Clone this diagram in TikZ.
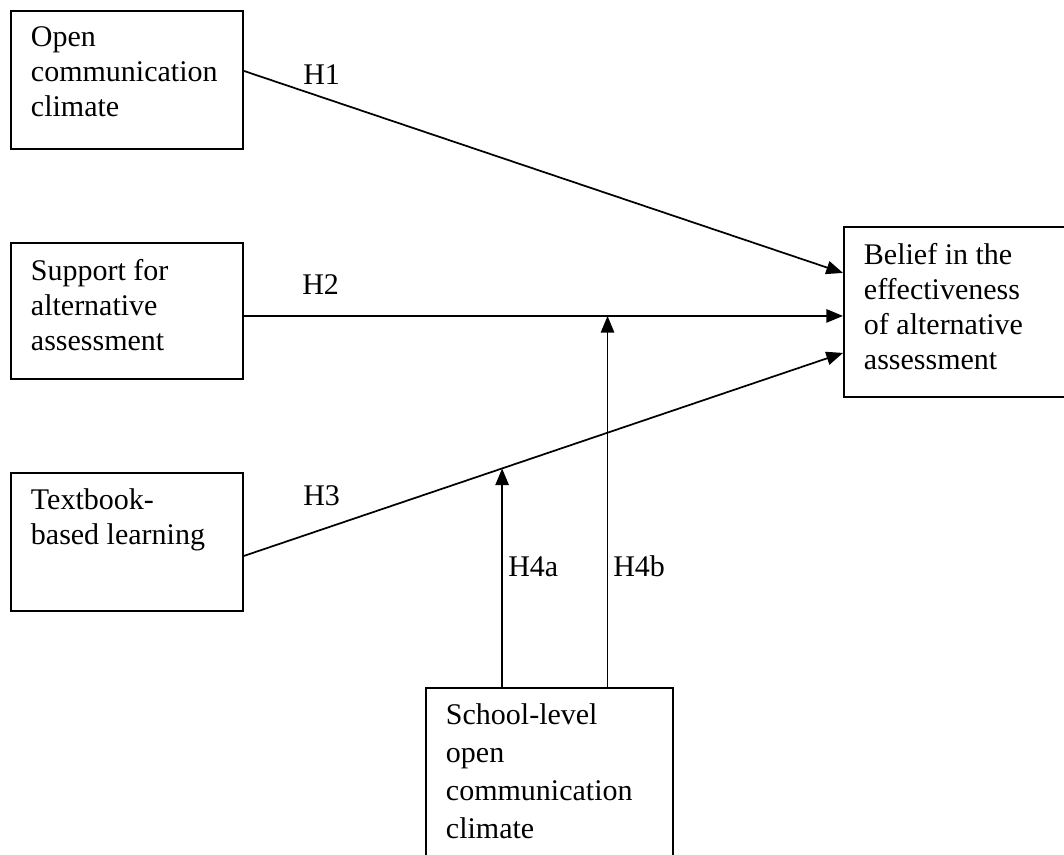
\documentclass[tikz,border=0pt]{standalone}
\usepackage{fontspec}
\setmainfont{Liberation Serif}
\usetikzlibrary{arrows.meta}

% fixed-size text block, text starts at the top
\newcommand{\boxlines}[3]{\parbox[c][#2][t]{#1}{\raggedright #3}}

\tikzset{
  var/.style={draw, line width=1.4pt, anchor=north west, inner xsep=15pt, inner ysep=12pt,
    font=\fontsize{22.5}{26.25}\selectfont},
  hyp/.style={anchor=base west, inner sep=0pt, font=\fontsize{22.5}{26.25}\selectfont},
  effect/.style={line width=1.3pt, -{Triangle[length=12.5pt,width=10pt]}}
}

\begin{document}
\begin{tikzpicture}[x=0.75pt, y=-0.75pt]
\useasboundingbox (0,0) rectangle (1064,855);

% === Predictors ===
\node[var] (occ) at (10,10) {\boxlines{144pt}{79.5pt}{Open\\communication\\climate}};
\node[var] (saa) at (10,242) {\boxlines{144pt}{78pt}{Support for\\alternative\\assessment}};
\node[var] (tbl) at (10,472) {\boxlines{144pt}{79.5pt}{Textbook-\\based learning}};

% === Outcome ===
\node[var] (bel) at (843,226) {\boxlines{150pt}{103.5pt}{Belief in the\\effectiveness\\of alternative\\assessment}};

% === Moderator ===
\node[var, font=\fontsize{22.5}{28.5}\selectfont] (scl) at (425,687)
  {\boxlines{155.25pt}{163.5pt}{School-level\\open\\communication\\climate}};

% === Direct effects ===
\draw[effect] ([yshift=6.75pt]occ.east) -- ([yshift=29.25pt]bel.west);
\coordinate (h2s) at ([yshift=-3.75pt]saa.east);
\draw[effect] (h2s) -- coordinate[pos=0.607] (h4bEnd) (h2s -| bel.west);
\draw[effect] ([yshift=-10.5pt]tbl.east) -- coordinate[pos=0.431] (h4aEnd) ([yshift=-30.75pt]bel.west);

% === Moderation ===
\draw[effect] (scl.north -| h4aEnd) -- (h4aEnd);
\draw[effect] (scl.north -| h4bEnd) -- (h4bEnd);

% === Labels ===
\node[hyp] (lH1) at (303,85) {H1};
\node[hyp] (lH2) at (302,295) {H2};
\node[hyp] (lH3) at (303,505) {H3};
\node[hyp] (lH4a) at (508,576) {H4a};
\node[hyp] (lH4b) at (613,576) {H4b};

\end{tikzpicture}
\end{document}
